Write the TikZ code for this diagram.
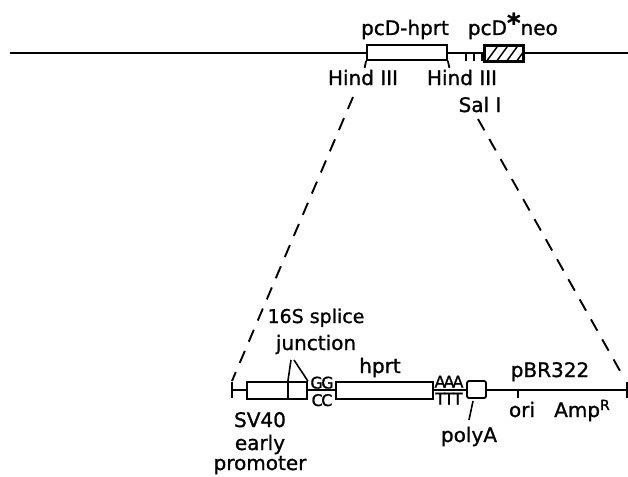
\documentclass[tikz,border=0pt]{standalone}
\usepackage{fontspec}
\setmainfont{DejaVu Sans}[FakeBold=1.1]
\begin{document}
\begin{tikzpicture}[x=1pt,y=-1pt, line width=1.8pt,
  lbl/.style={inner sep=0pt, anchor=base, font=\fontsize{20}{22}\selectfont},
  sml/.style={inner sep=0pt, anchor=base, font=\fontsize{16}{17}\selectfont},
  seg/.style={draw, fill=white, line width=1.8pt, inner sep=0pt, rectangle},
  dsh/.style={dash pattern=on 13pt off 10pt, line width=1.9pt}]
\useasboundingbox (0,0) rectangle (628,476);

% ---------------- top map ----------------
\coordinate (tL) at (10,53);
\coordinate (tR) at (628,53);
\draw (tL) -- (tR);

\node[seg, minimum width=80pt, minimum height=15pt] (hbox) at (407,52.5) {};
\draw (hbox.south west) to[out=-100,in=80] ++(-1.5,7);
\draw (hbox.south east) to[out=-80,in=100] ++(1.5,7);

\coordinate (k1) at (466,53);
\coordinate (k2) at (474,53);
\coordinate (k3) at (482,53);
\foreach \k in {k1,k2,k3} \draw (\k) -- ++(0,8);

\node[seg, minimum width=38pt, minimum height=15pt] (nbox) at (504,53.5) {};
\begin{scope}
  \clip (nbox.south west) rectangle (nbox.north east);
  \foreach \o in {2,12,22,32}
    \draw[line width=1.5pt] ([xshift=\o pt]nbox.south west) -- ++(11,-15);
\end{scope}
\draw (nbox.south west) rectangle (nbox.north east);

\node[lbl] (thprt) at (405,35) {pcD-hprt};
\node[lbl, anchor=base west] (tneo) at (467,35) {pcD\raisebox{3pt}{\fontsize{26}{26}\selectfont\bfseries *}neo};
\node[lbl] (hind1) at (363,85) {Hind III};
\node[lbl] (hind2) at (462,85) {Hind III};
\node[lbl] (sal) at (480,112) {Sal I};

% ---------------- dashed expansion lines ----------------
\coordinate (d1) at (353,97);
\coordinate (d2) at (232,381);
\coordinate (d3) at (478,119);
\coordinate (d4) at (624,378);
\draw[dsh] (d1) -- (d2);
\draw[dsh] (d3) -- (d4);

% ---------------- lower map ----------------
\coordinate (bL) at (232,390);
\coordinate (bR) at (627,390);
\draw (bL) -- (bR);
\draw ([yshift=-8pt]bL) -- ([yshift=8pt]bL);
\draw ([yshift=-8pt]bR) -- ([yshift=8pt]bR);

\node[seg, minimum width=60pt, minimum height=17pt] (sv) at (277,390.5) {};
\draw ([xshift=-20pt]sv.north east) -- ([xshift=-20pt]sv.south east);

\node[seg, minimum width=97pt, minimum height=17pt] (hp) at (384.5,390.5) {};
\node[seg, minimum width=19pt, minimum height=17pt, rounded corners=2pt] (pa) at (476.5,389.5) {};

\node[sml] (gg) at (322,388.5) {G\kern-1.5pt G};
\node[sml] (cc) at (322,406) {C\kern-1.5pt C};
\node[sml] (aaa) at (449,387.5) {A\kern-2pt A\kern-2pt A};
\node[sml] (ttt) at (449,404.5) {T\kern-1pt T\kern-1pt T};

% splice junction lines
\coordinate (sp1) at (291,360);
\coordinate (sp2) at (294,360);
\draw[line width=1.6pt] ([xshift=-20pt]sv.north east) -- (sp1);
\draw[line width=1.6pt] (sp2) -- (sv.north east);

% polyA pointer
\coordinate (pl0) at (473,401);
\coordinate (pl1) at (469,420);
\draw[line width=1.6pt] (pl0) -- (pl1);

% ori tick
\coordinate (ori) at (518,390);
\draw (ori) -- ++(0,8);

% labels
\node[lbl] (lhprt) at (380,373) {hprt};
\node[lbl] (lpbr) at (550,377) {pBR322};
\node[lbl, font=\fontsize{19}{21}\selectfont] (l16s) at (316,323) {16S splice};
\node[lbl] (ljun) at (316,350) {junction};
\node[lbl] (lsv) at (260,427) {SV40};
\node[lbl] (lear) at (260,450) {early};
\node[lbl] (lpro) at (260,470) {promoter};
\node[lbl] (lpolya) at (469,442) {polyA};
\node[lbl] (lori) at (522,417) {ori};
\node[lbl] (lamp) at (582,417) {Amp\raisebox{7pt}{\fontsize{14}{14}\selectfont R}};
\end{tikzpicture}
\end{document}
